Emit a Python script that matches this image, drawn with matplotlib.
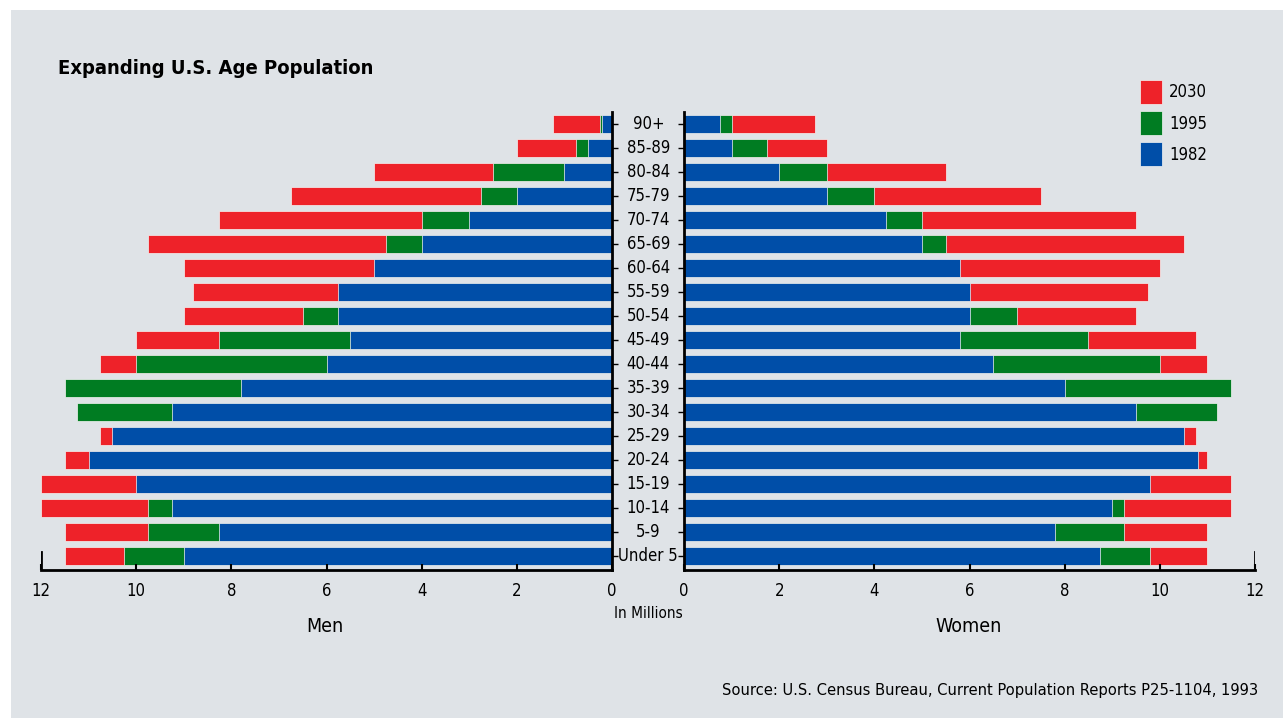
import numpy as np
import matplotlib.pyplot as plt
from matplotlib.patches import Patch, Rectangle

ages = ['Under 5', '5-9', '10-14', '15-19', '20-24', '25-29', '30-34', '35-39',
        '40-44', '45-49', '50-54', '55-59', '60-64', '65-69', '70-74', '75-79',
        '80-84', '85-89', '90+']

# millions, listed from Under 5 up to 90+
men_1982 = [9.0, 8.25, 9.25, 10.0, 11.0, 10.5, 9.25, 7.8, 6.0, 5.5, 5.75, 5.75, 5.0, 4.0, 3.0, 2.0, 1.0, 0.5, 0.2]
men_1995 = [10.25, 9.75, 9.75, 9.0, 9.5, 10.2, 11.25, 11.5, 10.0, 8.25, 6.5, 5.3, 4.9, 4.75, 4.0, 2.75, 2.5, 0.75, 0.25]
men_2030 = [11.5, 11.5, 12.0, 12.0, 11.5, 10.75, 10.3, 10.0, 10.75, 10.0, 9.0, 8.8, 9.0, 9.75, 8.25, 6.75, 5.0, 2.0, 1.25]

women_1982 = [8.75, 7.8, 9.0, 9.8, 10.8, 10.5, 9.5, 8.0, 6.5, 5.8, 6.0, 6.0, 5.8, 5.0, 4.25, 3.0, 2.0, 1.0, 0.75]
women_1995 = [9.8, 9.25, 9.25, 9.2, 9.8, 10.2, 11.2, 11.5, 10.0, 8.5, 7.0, 5.9, 5.5, 5.5, 5.0, 4.0, 3.0, 1.75, 1.0]
women_2030 = [11.0, 11.0, 11.5, 11.5, 11.0, 10.75, 10.8, 10.5, 11.0, 10.75, 9.5, 9.75, 10.0, 10.5, 9.5, 7.5, 5.5, 3.0, 2.75]

years = ['2030', '1995', '1982']
colors = {'2030': '#ee2229', '1995': '#007c22', '1982': '#004ea8'}
bg = '#dfe3e7'

plt.rcParams['font.family'] = ['DejaVu Sans']
plt.rcParams['font.stretch'] = 'condensed'

W, H = 1283, 718
fig = plt.figure(figsize=(W / 100, H / 100), dpi=100)
fig.patch.set_facecolor('white')
fig.patches.append(Rectangle((11 / W, 0), 1 - 11 / W, 1 - 10 / H,
                             transform=fig.transFigure, facecolor=bg,
                             edgecolor='none', zorder=-10))

bottom = (H - 570) / H
height = (570 - 112) / H
ax_m = fig.add_axes([41 / W, bottom, 571 / W, height])
ax_w = fig.add_axes([684 / W, bottom, 571 / W, height])

y = np.arange(len(ages))
men = {'1982': men_1982, '1995': men_1995, '2030': men_2030}
women = {'1982': women_1982, '1995': women_1995, '2030': women_2030}

for ax, data in [(ax_m, men), (ax_w, women)]:
    ax.set_facecolor('none')
    # longest series drawn first, each later one sits on top of it
    for yr in years:
        ax.barh(y, data[yr], height=0.72, color=colors[yr],
                edgecolor='#f4f4f4', linewidth=0.5)
    ax.set_xlim(0, 12)
    ax.set_ylim(-0.58, len(ages) - 0.5)
    ax.set_xticks(range(0, 13, 2))
    ax.spines['top'].set_visible(False)
    ax.spines['bottom'].set_linewidth(2)
    ax.tick_params(axis='x', direction='in', length=4, width=1.5, labelsize=12, pad=9)
    ax.tick_params(axis='y', direction='out', length=4, width=1)
    ax.set_yticks(y)
    ax.set_yticklabels([])
    ax.axvline(12, ymin=0, ymax=0.04, color='black', lw=2)

ax_m.invert_xaxis()
ax_m.spines['left'].set_visible(False)
ax_m.spines['right'].set_linewidth(2)
ax_m.yaxis.tick_right()
ax_w.spines['right'].set_visible(False)
ax_w.spines['left'].set_linewidth(2)

for yi, lab in zip(y, ages):
    ax_w.text(-0.75, yi, lab, ha='center', va='center', fontsize=12, clip_on=False)

fig.text(648 / W, 1 - 614 / H, 'In Millions', ha='center', va='center', fontsize=11)
fig.text(325 / W, 1 - 627 / H, 'Men', ha='center', va='center', fontsize=14)
fig.text(969 / W, 1 - 627 / H, 'Women', ha='center', va='center', fontsize=14)
fig.text(58 / W, 1 - 68 / H, 'Expanding U.S. Age Population', ha='left', va='center',
         fontsize=14.5, fontweight='bold')
fig.text(1258 / W, 1 - 690 / H, 'Source: U.S. Census Bureau, Current Population Reports P25-1104, 1993',
         ha='right', va='center', fontsize=11.8)

handles = [Patch(facecolor=colors[yr], edgecolor='#f4f4f4', linewidth=0.5) for yr in years]
fig.legend(handles, years, loc='upper left', bbox_to_anchor=(1140 / W, 1 - 80 / H),
           frameon=False, fontsize=12, handlelength=1.3, handleheight=1.85,
           labelspacing=0.42, handletextpad=0.45, borderpad=0, borderaxespad=0)

fig.savefig('out.png', dpi=100, facecolor=fig.get_facecolor())
